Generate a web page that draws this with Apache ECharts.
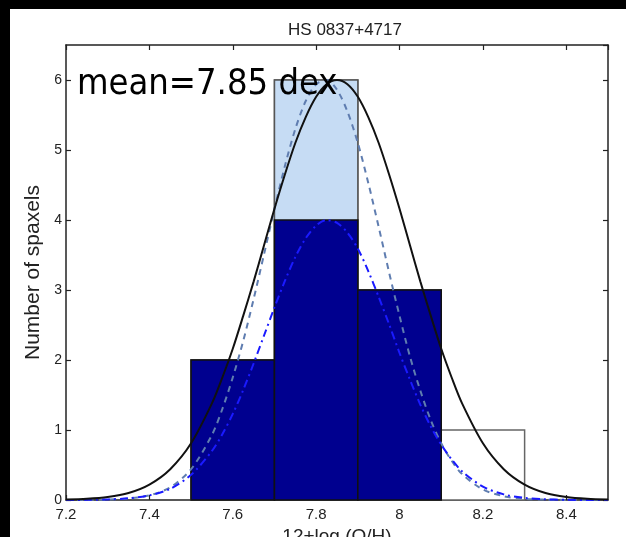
<!DOCTYPE html>
<html>
<head>
<meta charset="utf-8">
<script src="https://cdn.jsdelivr.net/npm/echarts@6/dist/echarts.min.js"></script>
<style>
  html, body { margin: 0; padding: 0; background: #000; width: 626px; height: 537px; overflow: hidden; }
  #chart { position: absolute; left: 10px; top: 9px; width: 616px; height: 528px; background: #fff; }
</style>
</head>
<body>
<div id="chart"></div>
<script>
// Histogram bins (12+log(O/H))
const binLeft  = [7.5, 7.7, 7.9, 8.1];
const binRight = [7.7, 7.9, 8.1, 8.3];
const allCounts   = [2, 6, 3, 1];   // outline histogram (white)
const lightCounts = [2, 6, 3, 0];   // light blue histogram
const navyCounts  = [2, 4, 3, 0];   // dark blue histogram

// Fitted curves
const curveX = [7.20,7.25,7.30,7.35,7.40,7.45,7.50,7.55,
  7.575,7.60,7.625,7.65,7.675,7.70,7.725,7.75,7.775,7.80,7.825,7.85,7.875,7.90,7.925,7.95,7.975,8.00,8.025,8.05,8.075,8.10,8.125,8.15,
  8.20,8.25,8.30,8.35,8.40,8.45,8.50];
const blackCurve = [0.006,0.017,0.043,0.10,0.22,0.44,0.81,1.38,
  1.75,2.16,2.63,3.12,3.64,4.16,4.65,5.10,5.47,5.76,5.94,6.00,5.94,5.76,5.47,5.10,4.65,4.16,3.64,3.12,2.63,2.16,1.75,1.38,
  0.81,0.44,0.22,0.10,0.043,0.017,0.006];
const grayDashCurve = [0.0,0.002,0.006,0.021,0.067,0.18,0.44,0.93,
  1.30,1.75,2.27,2.87,3.51,4.16,4.77,5.30,5.70,5.94,6.00,5.86,5.55,5.10,4.53,3.90,3.25,2.63,2.05,1.56,1.14,0.81,0.56,0.37,
  0.15,0.054,0.017,0.005,0.001,0.0,0.0];
const blueDashDotCurve = [0.001,0.002,0.008,0.024,0.066,0.16,0.36,0.70,
  0.94,1.23,1.57,1.95,2.35,2.75,3.13,3.47,3.74,3.92,4.00,3.96,3.82,3.59,3.27,2.90,2.51,2.10,1.72,1.36,1.05,0.79,0.58,0.41,
  0.19,0.08,0.03,0.01,0.003,0.001,0.0];

const xTicks = [7.2, 7.4, 7.6, 7.8, 8, 8.2, 8.4];
const yTicks = [0, 1, 2, 3, 4, 5, 6];

const titleText = 'HS 0837+4717';
const xName = '12+log (O/H)';
const yName = 'Number of spaxels';
const noteText = 'mean=7.85 dex';

function histData(counts) {
  return binLeft.map((l, i) => [l, binRight[i], counts[i]]).filter(d => d[2] > 0);
}
function curveData(ys) { return curveX.map((x, i) => [x, ys[i]]); }

function rectRender(fill, stroke, lw) {
  return function (params, api) {
    const p0 = api.coord([api.value(0), 0]);
    const p1 = api.coord([api.value(1), api.value(2)]);
    return {
      type: 'rect',
      shape: { x: p0[0], y: p1[1], width: p1[0] - p0[0], height: p0[1] - p1[1] },
      style: { fill: fill, stroke: stroke, lineWidth: lw }
    };
  };
}

const font = '"Liberation Sans", Arial, Helvetica, sans-serif';
const chart = echarts.init(document.getElementById('chart'), null, { renderer: 'canvas' });

const baseAxis = {
  axisLine: { show: true, onZero: false, lineStyle: { color: '#222', width: 1.5 } },
  axisTick: { show: true, inside: true, length: 5, lineStyle: { color: '#222', width: 1.2 } },
  splitLine: { show: false }
};

chart.setOption({
  animation: false,
  backgroundColor: '#fff',
  title: {
    text: titleText, left: 330, top: 8, textAlign: 'center',
    textStyle: { fontFamily: font, fontSize: 17, fontWeight: 'normal', color: '#222' }
  },
  grid: { left: 56, right: 18, top: 36, bottom: 37, containLabel: false, outerBoundsMode: 'none' },
  xAxis: [
    Object.assign({}, baseAxis, {
      type: 'value', min: 7.2, max: 8.5, interval: 0.2, position: 'bottom',
      name: xName, nameLocation: 'middle', nameGap: 25,
      nameTextStyle: { fontFamily: font, fontSize: 19, color: '#222' },
      axisLabel: {
        fontFamily: font, fontSize: 15, color: '#222', margin: 7, showMaxLabel: false,
        formatter: v => (xTicks.some(t => Math.abs(t - v) < 1e-6) ? String(Math.round(v * 10) / 10) : '')
      }
    }),
    Object.assign({}, baseAxis, {
      type: 'value', min: 7.2, max: 8.5, interval: 0.2, position: 'top',
      axisLabel: { show: false }
    })
  ],
  yAxis: [
    Object.assign({}, baseAxis, {
      type: 'value', min: 0, max: 6.5, interval: 1, position: 'left',
      name: yName, nameLocation: 'middle', nameGap: 18,
      nameTextStyle: { fontFamily: font, fontSize: 21, color: '#222' },
      axisLabel: {
        fontFamily: font, fontSize: 14, color: '#222', margin: 4, showMaxLabel: false,
        formatter: v => (yTicks.includes(v) ? String(v) : '')
      }
    }),
    Object.assign({}, baseAxis, {
      type: 'value', min: 0, max: 6.5, interval: 1, position: 'right',
      axisLabel: { show: false }
    })
  ],
  series: [
    { type: 'custom', renderItem: rectRender('#ffffff', '#666', 1.5), data: histData(allCounts), z: 1 },
    { type: 'custom', renderItem: rectRender('#c6dcf4', '#555', 1.5), data: histData(lightCounts), z: 2 },
    { type: 'custom', renderItem: rectRender('#00008f', '#111', 1.5), data: histData(navyCounts), z: 3 },
    {
      type: 'line', data: curveData(grayDashCurve), smooth: 0.3, showSymbol: false, z: 4,
      lineStyle: { color: '#5f7db0', width: 2, type: [6, 5] }
    },
    {
      type: 'line', data: curveData(blueDashDotCurve), smooth: 0.3, showSymbol: false, z: 5,
      lineStyle: { color: '#1a1aff', width: 2, type: [8, 4, 2, 4] }
    },
    {
      type: 'line', data: curveData(blackCurve), smooth: 0.3, showSymbol: false, z: 6,
      lineStyle: { color: '#111', width: 2 }
    }
  ],
  graphic: [
    {
      type: 'text', left: 67, top: 58, z: 100,
      style: { text: noteText, font: '36px "DejaVu Sans Condensed", "DejaVu Sans", sans-serif', fill: '#000' }
    }
  ]
});
</script>
</body>
</html>
